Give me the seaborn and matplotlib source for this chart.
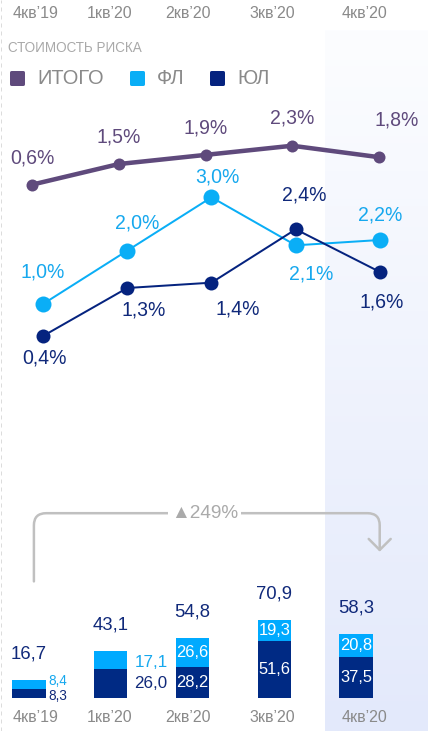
import numpy as np
import matplotlib
matplotlib.use('Agg')
import matplotlib.pyplot as plt
import matplotlib.transforms as mtransforms
from matplotlib.path import Path
from matplotlib.patches import FancyArrowPatch
from matplotlib.lines import Line2D
from matplotlib.markers import MarkerStyle
from matplotlib.colors import LinearSegmentedColormap
import seaborn as sns

################################################################################
# data
quarters   = ['4кв’19', '1кв’20', '2кв’20', '3кв’20', '4кв’20']
risk_total = [0.6, 1.5, 1.9, 2.3, 1.8]   # ИТОГО, %
risk_fl    = [1.0, 2.0, 3.0, 2.1, 2.2]   # ФЛ, %
risk_yl    = [0.4, 1.3, 1.4, 2.4, 1.6]   # ЮЛ, %
vol_fl     = [8.4, 17.1, 26.6, 19.3, 20.8]
vol_yl     = [8.3, 26.0, 28.2, 51.6, 37.5]
vol_total  = [16.7, 43.1, 54.8, 70.9, 58.3]
series_names = ['ИТОГО', 'ФЛ', 'ЮЛ']
growth_label = '▲249%'
title = 'СТОИМОСТЬ РИСКА'

################################################################################
C_TOT  = '#5f4a7c'
C_FL   = '#0aaef6'
C_YL   = '#05237f'
C_TXT  = '#8a8a8a'
C_YLT  = '#10297a'

sns.set_style('white')
plt.rcParams['font.family'] = ['Liberation Sans', 'DejaVu Sans']

W, H = 428, 731
fig = plt.figure(figsize=(W/72, H/72), dpi=72)

def px_axes(left, top, width, height, **kw):
    return fig.add_axes([left/W, 1-(top+height)/H, width/W, height/H], **kw)

def fmt(v, pct=False):
    s = ('%.1f' % v).replace('.', ',')
    return s + '%' if pct else s

# highlighted last quarter band
axbg = px_axes(325, 30, W-325, H-30, zorder=0)
grad = np.linspace(0, 1, 256)[:, None]
axbg.imshow(grad, aspect='auto', extent=(0, 1, 1, 0),
            cmap=LinearSegmentedColormap.from_list('bg', ['#fcfdff', '#e3e9fb']))
axbg.axis('off')

# dashed left border
fig.add_artist(Line2D([1/W, 1/W], [0, 1], transform=fig.transFigure,
                      color='#dcdcdc', lw=1, ls=(0, (4, 4))))

x = np.arange(len(quarters))

# ---- lines: ФЛ / ЮЛ
axl = px_axes(0, 100, W, 280, zorder=2)
axl.patch.set_alpha(0)
sns.lineplot(x=x, y=risk_fl, ax=axl, color=C_FL, lw=2, marker='o', markersize=16, markeredgewidth=0)
sns.lineplot(x=x, y=risk_yl, ax=axl, color=C_YL, lw=2, marker='o', markersize=14, markeredgewidth=0)
axl.set_xlim(-43/84.25, 385/84.25)
axl.set_ylim(-0.4246, 4.824)
axl.axis('off')

off_fl = [(0, 32), (10, 28), (6, 20), (15, -29), (0, 25)]
off_yl = [(2, -22), (16, -22), (26, -26), (9, 34), (2, -30)]
for i in x:
    axl.annotate(fmt(risk_fl[i], True), (i, risk_fl[i]), xytext=off_fl[i], textcoords='offset points',
                 ha='center', va='center', fontsize=19.5, color='#16a8ee')
    axl.annotate(fmt(risk_yl[i], True), (i, risk_yl[i]), xytext=off_yl[i], textcoords='offset points',
                 ha='center', va='center', fontsize=19.5, color=C_YLT)

# ---- line: ИТОГО (own compressed scale)
axt = px_axes(0, 100, W, 280, zorder=3)
axt.patch.set_alpha(0)
sns.lineplot(x=x, y=risk_total, ax=axt, color=C_TOT, lw=4.5, marker='o', markersize=12, markeredgewidth=0)
axt.set_xlim(-32/86.75, 396/86.75)
axt.set_ylim(-7.93, 4.297)
axt.axis('off')
off_tot = [(0, 27), (0, 27), (0, 27), (0, 28), (18, 37)]
for i in x:
    axt.annotate(fmt(risk_total[i], True), (i, risk_total[i]), xytext=off_tot[i], textcoords='offset points',
                 ha='center', va='center', fontsize=19.5, color=C_TOT)

# ---- title + legend
fig.text(8/W, 1-48/H, title, fontsize=13.5, color='#a9a9a9', va='center')
handles = [Line2D([], [], ls='', marker=MarkerStyle('s', joinstyle='round'), markersize=12,
                  markeredgewidth=3, color=c, label=l)
           for c, l in zip([C_TOT, C_FL, C_YL], series_names)]
fig.legend(handles=handles, loc='center left', bbox_to_anchor=(8/W, 1-79/H), ncol=3,
           frameon=False, fontsize=20, handlelength=0.9, handletextpad=0.55,
           columnspacing=1.2, borderpad=0, borderaxespad=0, labelcolor=C_TXT)

# ---- bars
axb = px_axes(0, 500, W, 198, zorder=2)
axb.patch.set_alpha(0)
sns.barplot(x=quarters, y=vol_total, ax=axb, color='#00aaff', width=0.404, saturation=1, linewidth=0)
sns.barplot(x=quarters, y=vol_yl, ax=axb, color='#002a84', width=0.404, saturation=1, linewidth=0)
axb.set_xlim(-29/81.75, 399/81.75)
axb.set_ylim(0, 180)
axb.set_xlabel('')
axb.set_ylabel('')
axb.set_xticks([])
axb.set_yticks([])
sns.despine(ax=axb, left=True, bottom=True)

inside  = [False, False, True, True, True]
out_gap = [3, 7]
out_fs  = [13.5, 17]
out_dy  = [(3, -2.5), (-3, 0)]   # nudge (ФЛ, ЮЛ) labels apart
for i in x:
    axb.annotate(fmt(vol_total[i]), (i, vol_total[i]), xytext=(0, 26), textcoords='offset points',
                 ha='center', va='center', fontsize=18.5, color=C_YLT)
    mid_yl = vol_yl[i]/2
    mid_fl = vol_yl[i] + vol_fl[i]/2
    if inside[i]:
        axb.text(i, mid_yl, fmt(vol_yl[i]), ha='center', va='center', fontsize=16.5, color='white')
        axb.text(i, mid_fl, fmt(vol_fl[i]), ha='center', va='center', fontsize=16.5, color='white')
    else:
        axb.annotate(fmt(vol_yl[i]), (i+0.202, mid_yl), xytext=(out_gap[i], out_dy[i][1]),
                     textcoords='offset points', ha='left', va='center', fontsize=out_fs[i], color=C_YLT)
        axb.annotate(fmt(vol_fl[i]), (i+0.202, mid_fl), xytext=(out_gap[i], out_dy[i][0]),
                     textcoords='offset points', ha='left', va='center', fontsize=out_fs[i], color='#16a8ee')

# quarter labels, top and bottom
label_dx = [7, -1, -5, -2, 9]
trans = mtransforms.blended_transform_factory(axb.transData, fig.transFigure)
for i, q in enumerate(quarters):
    for ypx in (14, 718):
        axb.annotate(q, (i, 1-ypx/H), xycoords=trans, xytext=(label_dx[i], 0), textcoords='offset points',
                     ha='center', va='center', fontsize=16, color=C_TXT, annotation_clip=False)

# growth arrow from first to last quarter
x0, x1 = 0.06, 4.29
y0, ytop, ytip = 106, 168, 133
rx, ry = 0.15, 11
verts = [(x0, y0), (x0, ytop-ry), (x0, ytop), (x0+rx, ytop),
         (x1-rx, ytop), (x1, ytop), (x1, ytop-ry), (x1, ytip)]
codes = [Path.MOVETO, Path.LINETO, Path.CURVE3, Path.CURVE3,
         Path.LINETO, Path.CURVE3, Path.CURVE3, Path.LINETO]
arrow = FancyArrowPatch(path=Path(verts, codes), arrowstyle='->,head_length=0.55,head_width=0.55',
                        mutation_scale=20, color='#c0c0c0', lw=2.5, transform=axb.transData,
                        clip_on=False)
axb.add_patch(arrow)
axb.text(2.15, ytop, growth_label, ha='center', va='center', fontsize=19, color='#aaaaaa',
         bbox=dict(fc='white', ec='none', pad=3))

fig.savefig('out.png', dpi=72)
